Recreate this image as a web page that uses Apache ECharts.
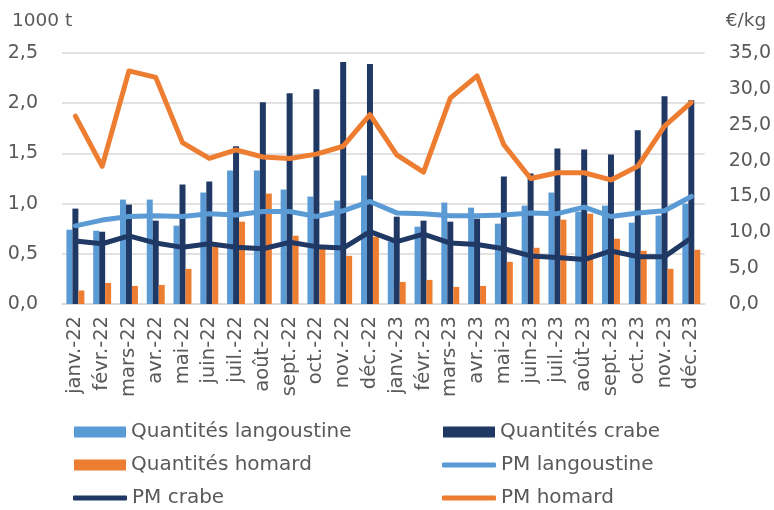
<!DOCTYPE html>
<html>
<head>
<meta charset="utf-8">
<script src="https://cdn.jsdelivr.net/npm/echarts@6/dist/echarts.min.js"></script>
<style>html,body{margin:0;padding:0;background:#fff}#c{width:774px;height:510px}</style>
</head>
<body>
<div id="c"></div>
<script>
var categories = ['janv.-22','févr.-22','mars-22','avr.-22','mai-22','juin-22','juil.-22','août-22','sept.-22','oct.-22','nov.-22','déc.-22',
  'janv.-23','févr.-23','mars-23','avr.-23','mai-23','juin-23','juil.-23','août-23','sept.-23','oct.-23','nov.-23','déc.-23'];
var qLangoustine = [0.74,0.73,1.04,1.04,0.78,1.11,1.33,1.33,1.14,1.07,1.03,1.28, 0.62,0.77,1.01,0.96,0.80,0.98,1.11,0.92,0.98,0.81,0.88,1.00];
var qCrabe       = [0.95,0.72,0.99,0.83,1.19,1.22,1.57,2.01,2.10,2.14,2.41,2.39, 0.87,0.83,0.82,0.85,1.27,1.30,1.55,1.54,1.49,1.73,2.07,2.03];
var qHomard      = [0.135,0.21,0.18,0.19,0.35,0.57,0.82,1.10,0.68,0.56,0.48,0.67, 0.22,0.24,0.17,0.18,0.42,0.56,0.84,0.90,0.65,0.53,0.35,0.54];
var pmLangoustine = [10.9,11.7,12.2,12.3,12.2,12.6,12.4,12.9,12.9,12.2,13.0,14.3, 12.7,12.6,12.3,12.3,12.4,12.7,12.6,13.5,12.2,12.7,13.0,15.0];
var pmCrabe       = [8.8,8.4,9.5,8.5,7.9,8.4,7.9,7.7,8.6,8.0,7.8,10.1, 8.7,9.75,8.5,8.3,7.7,6.7,6.5,6.2,7.4,6.6,6.6,9.2];
var pmHomard      = [26.2,19.2,32.5,31.6,22.5,20.3,21.5,20.5,20.3,20.9,22.0,26.4, 20.8,18.4,28.7,31.8,22.2,17.5,18.3,18.3,17.3,19.2,24.8,28.1];
var leftTicks = [0, 0.5, 1.0, 1.5, 2.0, 2.5];
var rightTicks = [0, 5, 10, 15, 20, 25, 30, 35];
var seriesNames = ['Quantités langoustine','Quantités crabe','Quantités homard','PM langoustine','PM crabe','PM homard'];

var C_LB = '#5B9BD5', C_NV = '#203864', C_OR = '#ED7D31';
var FONT = 'DejaVu Sans';
var TXT = '#595959';
var chart = echarts.init(document.getElementById('c'), null, {renderer:'canvas'});
var fmt = function(v){ return v.toFixed(1).replace('.', ','); };

function leg(name, left, top, isLine){
  return {show:true, left:left, top:top, padding:0, itemWidth:isLine?54:52, itemHeight:isLine?5:11,
    icon:isLine?'roundRect':'rect', selectedMode:false,
    textStyle:{fontFamily:FONT, fontSize:20, color:TXT, lineHeight:22},
    data:[name]};
}
chart.setOption({
  animation:false,
  textStyle:{fontFamily:FONT},
  grid:{left:62, right:66, top:53, bottom:206, containLabel:false},
  legend:[
    leg(seriesNames[0], 74, 421, false),
    leg(seriesNames[2], 74, 454, false),
    leg(seriesNames[4], 73, 487, true),
    leg(seriesNames[1], 443, 421, false),
    leg(seriesNames[3], 442, 454, true),
    leg(seriesNames[5], 442, 487, true)
  ],
  xAxis:{type:'category', data:categories,
    axisLine:{lineStyle:{color:'#d9d9d9', width:1.5}}, axisTick:{show:false},
    axisLabel:{rotate:90, fontSize:19.5, color:TXT, margin:12, interval:0, fontFamily:FONT}},
  yAxis:[
    {type:'value', min:leftTicks[0], max:leftTicks[leftTicks.length-1], interval:leftTicks[1]-leftTicks[0],
     name:'1000 t', nameLocation:'end', nameGap:22,
     nameTextStyle:{fontSize:18.5, color:TXT, align:'left', padding:[0,0,0,-50], fontFamily:FONT},
     axisLabel:{formatter:fmt, fontSize:19, color:TXT, margin:24, fontFamily:FONT},
     splitLine:{lineStyle:{color:'#d9d9d9', width:1.5}}, axisLine:{show:false}, axisTick:{show:false}},
    {type:'value', min:rightTicks[0], max:rightTicks[rightTicks.length-1], interval:rightTicks[1]-rightTicks[0],
     name:'€/kg', nameLocation:'end', nameGap:22,
     nameTextStyle:{fontSize:18.5, color:TXT, align:'left', padding:[0,0,0,21], fontFamily:FONT},
     axisLabel:{formatter:fmt, fontSize:19, color:TXT, margin:24, fontFamily:FONT},
     splitLine:{show:false}, axisLine:{show:false}, axisTick:{show:false}}
  ],
  series:[
    {name:seriesNames[0], type:'bar', data:qLangoustine, itemStyle:{color:C_LB}, barGap:'0%', barCategoryGap:'33%'},
    {name:seriesNames[1], type:'bar', data:qCrabe, itemStyle:{color:C_NV}, barGap:'0%', barCategoryGap:'33%'},
    {name:seriesNames[2], type:'bar', data:qHomard, itemStyle:{color:C_OR}, barGap:'0%', barCategoryGap:'33%'},
    {name:seriesNames[3], type:'line', yAxisIndex:1, data:pmLangoustine, symbol:'none', itemStyle:{color:C_LB}, lineStyle:{color:C_LB, width:5, cap:'round', join:'round'}},
    {name:seriesNames[4], type:'line', yAxisIndex:1, data:pmCrabe, symbol:'none', itemStyle:{color:C_NV}, lineStyle:{color:C_NV, width:5, cap:'round', join:'round'}},
    {name:seriesNames[5], type:'line', yAxisIndex:1, data:pmHomard, symbol:'none', itemStyle:{color:C_OR}, lineStyle:{color:C_OR, width:5, cap:'round', join:'round'}}
  ]
});
</script>
</body>
</html>
